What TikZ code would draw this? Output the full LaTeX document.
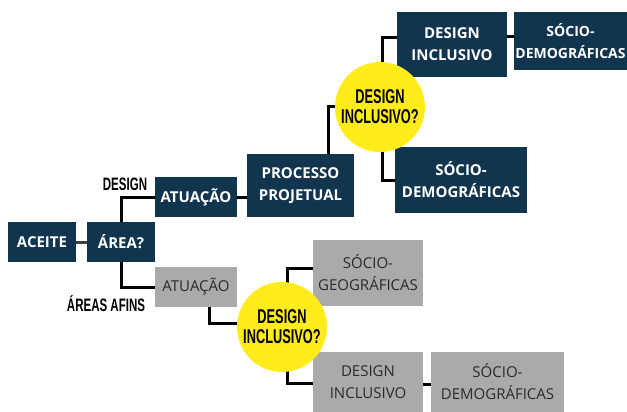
\documentclass[tikz,border=0pt]{standalone}
\usepackage{fontspec}
\setmainfont{Open Sans}
\newfontfamily\condfont[FakeStretch=0.64]{Liberation Sans}
\definecolor{navy}{HTML}{12354F}
\definecolor{boxgray}{HTML}{AAAAAA}
\definecolor{gtext}{HTML}{2A2A2A}
\definecolor{qyellow}{HTML}{FFEC1A}
\pgfdeclarelayer{bg}
\pgfdeclarelayer{paper}
\pgfsetlayers{paper,bg,main}
\begin{document}
\begin{tikzpicture}[x=1pt,y=-1pt,
  dbox/.style={rectangle, fill=navy, text=white, align=center, inner sep=0pt,
    font=\fontsize{15}{22}\selectfont\bfseries},
  gbox/.style={rectangle, fill=boxgray, text=gtext, align=center, inner sep=0pt,
    font=\fontsize{15}{22}\selectfont},
  qcirc/.style={circle, fill=qyellow, minimum size=90pt, inner sep=0pt, align=center,
    font=\condfont\fontsize{20}{20}\selectfont\bfseries},
  lbl/.style={inner sep=0pt, font=\condfont\fontsize{18}{18}\selectfont\bfseries},
  conn/.style={line width=3pt, black}]
\useasboundingbox (0,0) rectangle (627,412);
\begin{pgfonlayer}{paper}
\fill[white] (0,0) rectangle (627,412);
\end{pgfonlayer}
% dark boxes
\node[dbox, minimum width=68pt, minimum height=40pt] (aceite) at (42,242) {ACEITE};
\node[dbox, minimum width=68pt, minimum height=40pt] (area) at (121,242) {ÁREA?};
\node[dbox, minimum width=82pt, minimum height=40pt] (atu1) at (196,197) {ATUAÇÃO};
\node[dbox, minimum width=107pt, minimum height=63pt] (proc) at (300.5,185.5) {PROCESSO\\PROJETUAL};
\node[dbox, minimum width=110pt, minimum height=65pt] (di1) at (452,44.5) {DESIGN\\INCLUSIVO};
\node[dbox, minimum width=113pt, minimum height=58pt, font=\fontsize{14}{22}\selectfont\bfseries] (sd1) at (570.5,41) {SÓCIO-\\DEMOGRÁFICAS};
\node[dbox, minimum width=132pt, minimum height=66pt] (sd2) at (461,180) {SÓCIO-\\DEMOGRÁFICAS};
% gray boxes
\node[gbox, minimum width=82pt, minimum height=40pt] (atu2) at (196,287) {ATUAÇÃO};
\node[gbox, minimum width=110pt, minimum height=66pt] (sg) at (368,273) {SÓCIO-\\GEOGRÁFICAS};
\node[gbox, minimum width=110pt, minimum height=60pt] (di2) at (368,382) {DESIGN\\INCLUSIVO};
\node[gbox, minimum width=133pt, minimum height=60pt] (sd3) at (497.5,382) {SÓCIO-\\DEMOGRÁFICAS};
% labels
\node[lbl] (lblD) at (125,184) {DESIGN};
\node[lbl] (lblA) at (106,304) {ÁREAS AFINS};
% circles
\node[qcirc] (c1) at (380,107) {DESIGN\\INCLUSIVO?};
\node[qcirc] (c2) at (282,327) {DESIGN\\INCLUSIVO?};
% connectors
\begin{pgfonlayer}{bg}
\draw[conn, draw=black!75] (aceite.east) -- (area.west);
\draw[conn] (area.north) |- (atu1.west);
\draw[conn] (area.south) |- (atu2.west);
\draw[conn] (atu1.east) -- (atu1.east -| proc.west);
\draw[conn] ([xshift=27.5pt]proc.north) |- (c1.center);
\draw[conn] ([xshift=2pt]c1.center) |- ([yshift=6.5pt]di1.west);
\draw[conn] ([xshift=2pt]c1.center) |- (sd2.west);
\draw[conn] ([yshift=7.5pt]di1.east) -- ([yshift=7.5pt]di1.east -| sd1.west);
\draw[conn] ([xshift=13pt]atu2.south) |- ([yshift=4pt]c2.center);
\draw[conn] ([xshift=5pt]c2.center) |- ([yshift=5pt]sg.west);
\draw[conn] ([xshift=5pt]c2.center) |- ([yshift=-1pt]di2.west);
\draw[conn] ([yshift=-2pt]di2.east) -- ([yshift=-2pt]sd3.west);
\end{pgfonlayer}
\end{tikzpicture}
\end{document}
